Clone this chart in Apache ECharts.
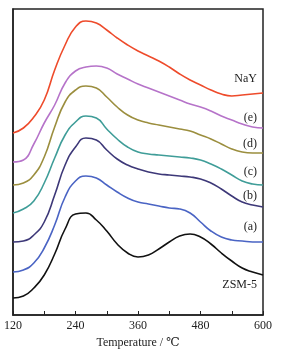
<!DOCTYPE html>
<html><head><meta charset="utf-8">
<script src="https://cdn.jsdelivr.net/npm/echarts@6/dist/echarts.min.js"></script>
<style>html,body{margin:0;padding:0;background:#fff}#c{width:282px;height:356px}</style>
</head><body><div id="c"></div>
<script>
// Temperature (°C) and signal (arbitrary units, curves offset vertically)
const temps = [120,140,160,180,200,220,240,260,280,300,320,340,360,380,400,420,440,460,480,500,520,540,560,580,600];
const vZSM = [17,19,27,40,61,86,101,102,95,84,71,62,58,60,66,73,79,81,78,71,62,54,47,43,40];
const vA   = [43,45,52,67,90,118,134,139,137,130,123,117,113,111,109,107,106,102,93,84,78,75,74,73,73];
const vB   = [73,74,80,93,120,150,168,177,175,165,156,150,146,143,141,140,139,138,136,132,126,119,113,110,108];
const vC   = [102,106,114,132,157,180,193,199,197,186,176,168,163,161,160,159,158,157,155,151,146,140,134,131,130];
const vD   = [130,132,140,158,188,213,225,229,227,218,208,200,195,192,190,188,186,184,180,176,171,166,163,162,162];
const vE   = [153,155,171,192,210,232,244,248,249,247,241,236,231,227,223,219,215,211,208,204,199,195,191,188,187];
const vNaY = [182,187,198,215,245,270,288,294,292,285,277,270,264,259,254,248,241,235,230,225,221,219,220,221,222];
const xTicks = [120,240,360,480,600];
const names = ['ZSM-5','(a)','(b)','(c)','(d)','(e)','NaY'];

const zip = v=>temps.map((x,i)=>[x,v[i]]);
const sets = [[vZSM,'#111111'],[vA,'#4a64c4'],[vB,'#3d3878'],[vC,'#3f9d98'],[vD,'#9b8e3e'],[vE,'#b673c9'],[vNaY,'#ee4b2b']];
const labelY = [286,228,197,173,145,119,80];
const serif = '"Liberation Serif","DejaVu Serif",serif';

const chart = echarts.init(document.getElementById('c'));
chart.setOption({
  animation:false,
  backgroundColor:'#fff',
  grid:{left:13,right:19,top:9,bottom:41,show:true,borderColor:'#222',borderWidth:1.5,backgroundColor:'#fff'},
  xAxis:{type:'value',min:xTicks[0],max:xTicks[xTicks.length-1],interval:120,
    name:'Temperature / ℃',nameLocation:'middle',nameGap:18,
    nameTextStyle:{fontFamily:serif,fontSize:12,color:'#222'},
    axisLine:{show:true,lineStyle:{color:'#222',width:1.5}},
    axisTick:{show:true,inside:true,length:4,lineStyle:{color:'#222'}},
    minorTick:{show:true,splitNumber:2,length:4,lineStyle:{color:'#222'}},
    axisLabel:{fontFamily:serif,fontSize:12,color:'#222',margin:5},
    splitLine:{show:false}},
  yAxis:{type:'value',min:0,max:306,show:true,axisLabel:{show:false},axisTick:{show:false},
    axisLine:{show:true,lineStyle:{color:'#222',width:1.5}},splitLine:{show:false}},
  graphic: names.map((n,i)=>({type:'text',right:25,top:labelY[i]-7,
    style:{text:n,font:'12px '+serif,fill:'#222',textAlign:'right'}})),
  series: sets.map((s,i)=>({type:'line',name:names[i],data:zip(s[0]),smooth:true,symbol:'none',
    lineStyle:{color:s[1],width:1.6}}))
});
</script></body></html>
